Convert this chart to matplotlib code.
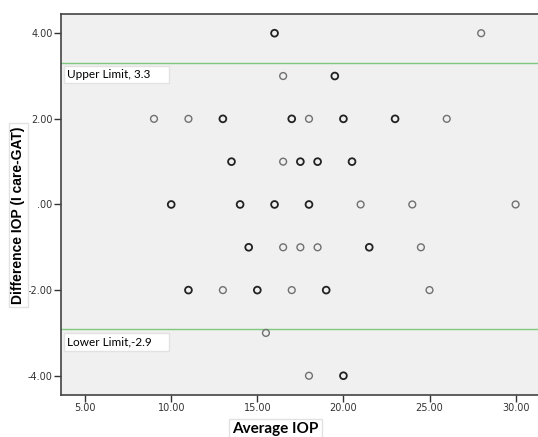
import matplotlib
matplotlib.use("Agg")
from matplotlib import pyplot as plt
from matplotlib.patches import Rectangle

# Bland-Altman: I care vs GAT
# n = rough number of overlapping points at that spot (darker circles)
avg_iop = [16, 28,
           16.5, 19.5,
           9, 11, 13, 17, 18, 20, 23, 26,
           13.5, 16.5, 17.5, 18.5, 20.5,
           10, 14, 16, 18, 21, 24, 30,
           14.5, 16.5, 17.5, 18.5, 21.5, 24.5,
           11, 13, 15, 17, 19, 25,
           15.5,
           18, 20]
diff_iop = [4, 4,
            3, 3,
            2, 2, 2, 2, 2, 2, 2, 2,
            1, 1, 1, 1, 1,
            0, 0, 0, 0, 0, 0, 0,
            -1, -1, -1, -1, -1, -1,
            -2, -2, -2, -2, -2, -2,
            -3,
            -4, -4]
n = [2, 1,
     1, 3,
     1, 1, 3, 3, 1, 2, 2, 1,
     3, 1, 3, 2, 2,
     3, 3, 2, 3, 1, 1, 1,
     3, 1, 1, 1, 3, 1,
     3, 1, 3, 1, 2, 1,
     1,
     1, 2]

upper_limit = 3.3
lower_limit = -2.9
xticks = [5, 10, 15, 20, 25, 30]
yticks = [-4, -2, 0, 2, 4]

fig = plt.figure(figsize=(5.38, 4.37), dpi=100)
ax = fig.add_axes([0.1134, 0.0961, 0.8866, 0.872])
ax.set_facecolor("#f0f0f0")

for x, y, c in zip(avg_iop, diff_iop, n):
    if c == 1:
        ec, lw = "#707070", 1.0
    else:
        ec, lw = "#222222", 1.3
    ax.scatter(x, y, s=24, facecolors="none", edgecolors=ec, linewidths=lw, zorder=3)

ax.axhline(upper_limit, color="#80c880", lw=1.0, zorder=2)
ax.axhline(lower_limit, color="#80c880", lw=1.0, zorder=2)

# reference-line labels in white boxes
ax.add_patch(Rectangle((3.76, 2.84), 6.1, 0.40, fc="white", ec="#e2e2e2", lw=1, zorder=4))
ax.add_patch(Rectangle((3.76, -3.43), 6.1, 0.42, fc="white", ec="#e2e2e2", lw=1, zorder=4))
ax.text(3.95, 3.04, "Upper Limit, 3.3", fontsize=8.5, family="Lato",
        va="center", ha="left", zorder=5)
ax.text(3.95, -3.22, "Lower Limit,-2.9", fontsize=8.5, family="Lato",
        va="center", ha="left", zorder=5)

ax.set_xlim(3.6, 31.3)
ax.set_ylim(-4.45, 4.45)
ax.set_xticks(xticks)
ax.set_xticklabels(["%.2f" % t for t in xticks])
ax.set_yticks(yticks)
ax.set_yticklabels(["%.2f" % t if t != 0 else ".00" for t in yticks])
ax.tick_params(labelsize=7, length=5, width=1, color="#333333", labelcolor="#333333", pad=1)

for side in ["left", "bottom", "top"]:
    ax.spines[side].set_color("#444444")
    ax.spines[side].set_linewidth(1.2)
ax.spines["right"].set_visible(False)

lab_box = dict(boxstyle="square,pad=0.2", fc="white", ec="#e2e2e2", lw=1)
fig.text(0.034, 0.508, "Difference IOP (I care-GAT)", rotation=90, fontsize=10,
         fontweight="bold", family="Liberation Sans", ha="center", va="center",
         bbox=lab_box)
fig.text(0.512, 0.018, "Average IOP", fontsize=11, fontweight="bold", family="Lato",
         ha="center", va="center", bbox=lab_box)

plt.savefig("out.png", dpi=100)
